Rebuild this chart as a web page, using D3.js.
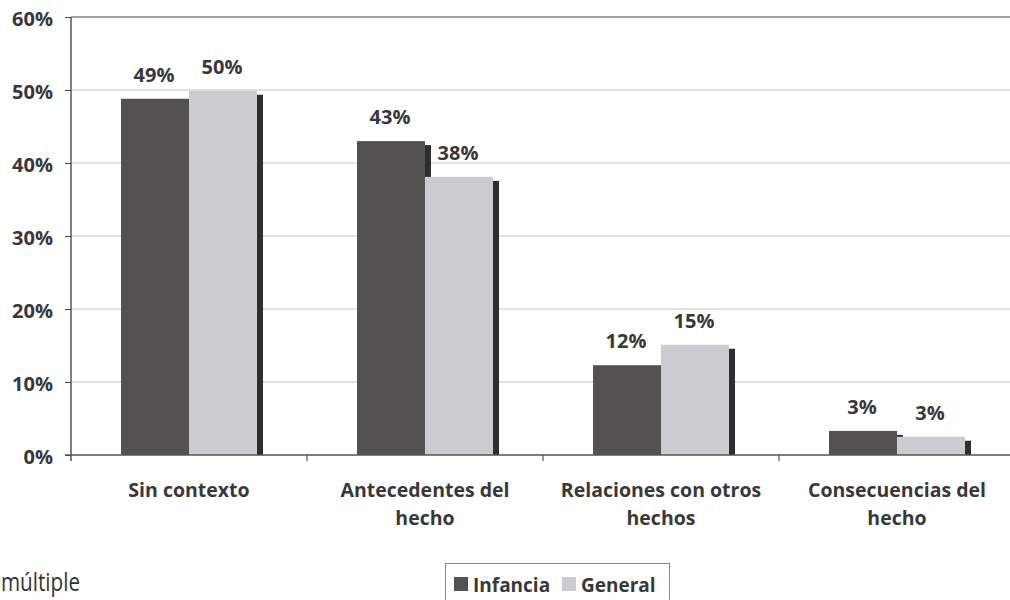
<!DOCTYPE html>
<html>
<head>
<meta charset="utf-8">
<script src="https://cdn.jsdelivr.net/npm/d3@7"></script>
<style>
  html, body { margin: 0; padding: 0; background: #fff; }
  svg { display: block; }
  text { font-family: "Open Sans", "Noto Sans", sans-serif; }
</style>
</head>
<body>
<svg id="chart" width="1010" height="600"></svg>
<script>
// ---- data ----
const categories = [
  ["Sin contexto"],
  ["Antecedentes del", "hecho"],
  ["Relaciones con otros", "hechos"],
  ["Consecuencias del", "hecho"]
];
const seriesNames = ["Infancia", "General"];
const infancia = [0.488, 0.430, 0.123, 0.033];
const general  = [0.499, 0.381, 0.151, 0.025];
const labelsInfancia = ["49%", "43%", "12%", "3%"];
const labelsGeneral  = ["50%", "38%", "15%", "3%"];
const yTicks = [0, 0.1, 0.2, 0.3, 0.4, 0.5, 0.6];
const colors = ["#545153", "#cbcbd0"];
const shadowColor = "#2e2e30";

(function () {
const svg = d3.select("#chart");
const W = 1010;
const pLeft = 71, pRight = 1015, pTop = 17, pBottom = 455;
const textColor = "#38383a";

const catKeys = categories.map((c, i) => i);
const x0 = d3.scaleBand().domain(catKeys).range([pLeft, pRight]).padding(0);
const x1 = d3.scaleBand().domain(seriesNames).range([0, x0.bandwidth()])
  .paddingInner(0).paddingOuter(0.735);
const y = d3.scaleLinear().domain([0, 0.6]).range([pBottom, pTop]);

// gridlines
svg.append("g").selectAll("line").data(yTicks.filter(t => t > 0)).join("line")
  .attr("x1", pLeft).attr("x2", W)
  .attr("y1", d => y(d)).attr("y2", d => y(d))
  .attr("stroke", d => d === 0.6 ? "#a0a0a5" : "#c8c8cb")
  .attr("stroke-width", d => d === 0.6 ? 2 : 1.2);

const rows = [];
catKeys.forEach(i => {
  rows.push({cat: i, s: 0, v: infancia[i], lab: labelsInfancia[i]});
  rows.push({cat: i, s: 1, v: general[i], lab: labelsGeneral[i]});
});
const bx = d => x0(d.cat) + x1(seriesNames[d.s]);

// shadows
const dx = 6, dy = 4;
svg.append("g").selectAll("rect").data(rows).join("rect")
  .attr("x", d => bx(d) + dx)
  .attr("y", d => y(d.v) + dy)
  .attr("width", x1.bandwidth())
  .attr("height", d => Math.max(0, pBottom - (y(d.v) + dy)))
  .attr("fill", shadowColor);

// bars
svg.append("g").selectAll("rect").data(rows).join("rect")
  .attr("x", d => bx(d))
  .attr("y", d => y(d.v))
  .attr("width", x1.bandwidth())
  .attr("height", d => pBottom - y(d.v))
  .attr("fill", d => colors[d.s]);

// value labels
svg.append("g").selectAll("text").data(rows).join("text")
  .attr("x", d => bx(d) + x1.bandwidth() / 2 - 1)
  .attr("y", d => y(d.v) - 17)
  .attr("text-anchor", "middle")
  .attr("font-size", 20).attr("font-weight", 700)
  .attr("fill", textColor)
  .text(d => d.lab);

// y axis
const yAxis = d3.axisLeft(y).tickValues(yTicks).tickFormat(d3.format(".0%"))
  .tickSize(6).tickPadding(12);
const gy = svg.append("g").attr("transform", `translate(${pLeft},0)`).call(yAxis);
gy.select(".domain").remove();
gy.selectAll(".tick line").attr("stroke", "#444");
gy.selectAll(".tick text").attr("font-size", 20).attr("font-weight", 700)
  .attr("fill", textColor).attr("font-family", "'Open Sans', sans-serif")
  .attr("dy", "0.4em");
svg.append("line").attr("x1", pLeft).attr("x2", pLeft).attr("y1", pTop).attr("y2", pBottom + 6)
  .attr("stroke", "#555").attr("stroke-width", 1.5);

// x axis line + boundary ticks
svg.append("line").attr("x1", pLeft - 6).attr("x2", W).attr("y1", pBottom).attr("y2", pBottom)
  .attr("stroke", "#555").attr("stroke-width", 1.5);
svg.append("g").selectAll("line").data(catKeys.slice(1)).join("line")
  .attr("x1", d => x0(d)).attr("x2", d => x0(d))
  .attr("y1", pBottom).attr("y2", pBottom + 6)
  .attr("stroke", "#555").attr("stroke-width", 1.2);

// category labels
const cl = svg.append("g").selectAll("text").data(catKeys).join("text")
  .attr("x", d => x0(d) + x0.bandwidth() / 2)
  .attr("y", 497)
  .attr("text-anchor", "middle")
  .attr("font-size", 19.5).attr("font-weight", 700)
  .attr("fill", textColor);
cl.each(function(d) {
  const t = d3.select(this);
  categories[d].forEach((line, k) => {
    t.append("tspan").attr("x", x0(d) + x0.bandwidth() / 2)
      .attr("dy", k === 0 ? 0 : 28).text(line);
  });
});

// footnote fragment
svg.append("text").attr("x", 1).attr("y", 591)
  .attr("font-family", "Roboto, sans-serif").attr("font-size", 25)
  .attr("textLength", 79).attr("lengthAdjust", "spacingAndGlyphs")
  .attr("fill", "#333").text("múltiple");

// legend
const lg = svg.append("g");
lg.append("rect").attr("x", 445.5).attr("y", 563.5).attr("width", 224).attr("height", 50)
  .attr("fill", "#fff").attr("stroke", "#8a8a8e").attr("stroke-width", 1);
const legX = [454, 562];
seriesNames.forEach((s, i) => {
  lg.append("rect").attr("x", legX[i]).attr("y", 577).attr("width", 14).attr("height", 14)
    .attr("fill", colors[i]);
  lg.append("text").attr("x", legX[i] + 19).attr("y", 592)
    .attr("font-size", 19).attr("font-weight", 700).attr("fill", textColor).text(s);
});
})();
</script>
</body>
</html>
